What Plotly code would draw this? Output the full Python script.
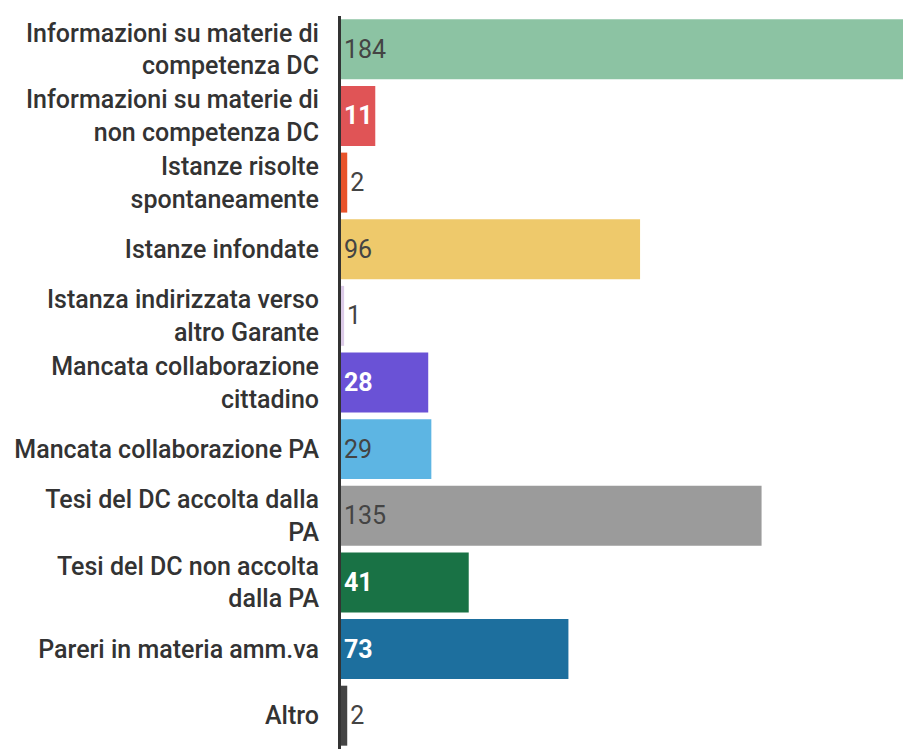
import plotly.graph_objects as go

categories = [
    "Informazioni su materie di<br>competenza DC",
    "Informazioni su materie di<br>non competenza DC",
    "Istanze risolte<br>spontaneamente",
    "Istanze infondate",
    "Istanza indirizzata verso<br>altro Garante",
    "Mancata collaborazione<br>cittadino",
    "Mancata collaborazione PA",
    "Tesi del DC accolta dalla<br>PA",
    "Tesi del DC non accolta<br>dalla PA",
    "Pareri in materia amm.va",
    "Altro",
]
values = [184, 11, 2, 96, 1, 28, 29, 135, 41, 73, 2]
colors = ["#8cc3a3", "#e05456", "#e8532a", "#eec96b", "#dccbe8", "#6a52d6",
          "#5db5e3", "#9b9b9b", "#197245", "#1d6f9e", "#444444"]
white_label = [False, True, False, False, False, True, False, False, True, True, False]
label_inside = [True, True, False, True, False, True, True, True, True, True, False]

texttemplates = ["<b>%{x}</b>" if w else "%{x}" for w in white_label]
inside_colors = ["#ffffff" if w else "#444444" for w in white_label]
positions = ["inside" if i else "outside" for i in label_inside]

FONT = "Roboto"
FS = 25

fig = go.Figure(go.Bar(
    x=values,
    y=categories,
    orientation="h",
    marker=dict(color=colors, line=dict(width=0)),
    texttemplate=texttemplates,
    textposition=positions,
    insidetextanchor="start",
    constraintext="none",
    cliponaxis=True,
    insidetextfont=dict(color=inside_colors, size=FS, family=FONT),
    outsidetextfont=dict(color="#444444", size=FS, family=FONT),
    hoverinfo="skip",
))

fig.update_layout(
    width=903, height=749,
    margin=dict(l=341, r=0, t=16, b=0, pad=0),
    paper_bgcolor="white", plot_bgcolor="white",
    bargap=0.1,
    showlegend=False,
    font=dict(family=FONT, size=FS, color="#333333"),
    xaxis=dict(range=[0, 180.4], visible=False, fixedrange=True),
    yaxis=dict(autorange="reversed", showline=True, linecolor="#333333",
               linewidth=3, ticks="", ticklabelstandoff=14, fixedrange=True,
               tickfont=dict(size=FS, color="#333333", family=FONT, weight=500),
               showgrid=False, zeroline=False),
)

fig.write_html(
    "out.html",
    config={"displayModeBar": False, "staticPlot": True},
    post_script="document.body.style.margin='0';document.body.style.overflow='hidden';",
)
